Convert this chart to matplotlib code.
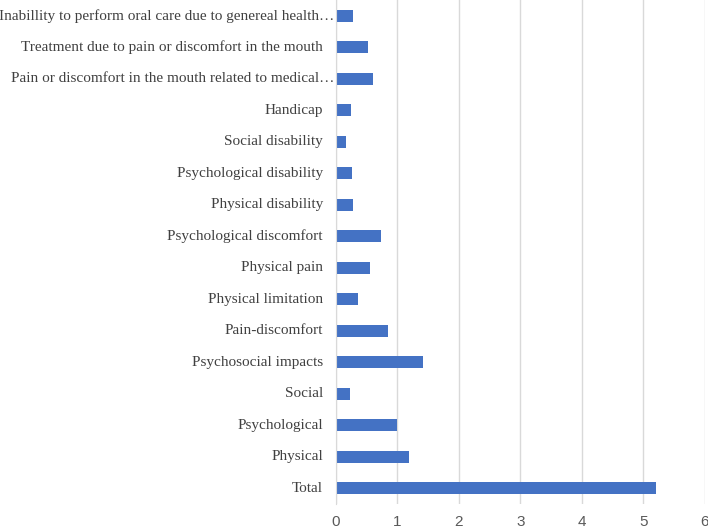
import matplotlib.pyplot as plt
from matplotlib.transforms import offset_copy

# data, bottom to top as drawn
categories = [
    "Total",
    "Physical",
    "Psychological",
    "Social",
    "Psychosocial impacts",
    "Pain-discomfort",
    "Physical limitation",
    "Physical pain",
    "Psychological discomfort",
    "Physical disability",
    "Psychological disability",
    "Social disability",
    "Handicap",
    "Pain or discomfort in the mouth related to medical\u2026",
    "Treatment due to pain or discomfort in the mouth",
    "Inabillity to perform oral care due to genereal health\u2026",
]
values = [5.2, 1.19, 0.99, 0.22, 1.41, 0.84, 0.36, 0.55, 0.74, 0.28, 0.26, 0.17, 0.24, 0.60, 0.52, 0.28]
xticks = [0, 1, 2, 3, 4, 5, 6]

fig = plt.figure(figsize=(7.08, 5.28), dpi=100)
ax = fig.add_axes([0.4746, 0.045, 0.5207, 0.955])

ypos = list(range(len(categories)))
ax.barh(ypos, values, height=0.38, color="#4472C4", zorder=3)

ax.set_xlim(0, 6)
ax.set_ylim(-0.5, len(categories) - 0.5)
ax.set_xticks(xticks)
ax.set_xticklabels([str(t) for t in xticks], fontfamily="Liberation Sans", fontsize=11, color="#595959")
ax.set_yticks(ypos)
ax.set_yticklabels([])
ax.tick_params(axis="both", length=0)
ax.tick_params(axis="x", pad=8)

# category labels: truncated ones (with ellipsis) sit right against the axis
for y, lab in zip(ypos, categories):
    pad = 1 if lab.endswith("\u2026") else 9.5
    tr = offset_copy(ax.get_yaxis_transform(), fig=fig, x=-pad, y=0, units="points")
    ax.text(0, y, lab, transform=tr, ha="right", va="center",
            fontfamily="Liberation Serif", fontsize=11, color="#404040")

ax.grid(axis="x", color="#d9d9d9", linewidth=1, zorder=0)
for s in ["top", "right", "bottom"]:
    ax.spines[s].set_visible(False)
ax.spines["left"].set_color("#d9d9d9")
ax.spines["left"].set_zorder(4)

fig.savefig("out.png", dpi=100)
